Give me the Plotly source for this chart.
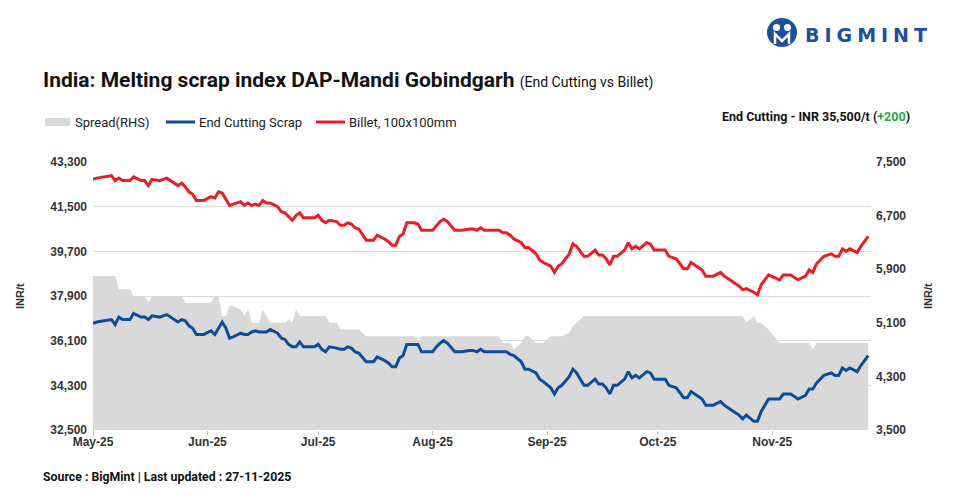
import plotly.graph_objects as go

# ---------------- data ----------------
dates = [
    "2025-05-01", "2025-05-02", "2025-05-04", "2025-05-06", "2025-05-07", "2025-05-08", "2025-05-09",
    "2025-05-11", "2025-05-12", "2025-05-14", "2025-05-15", "2025-05-16", "2025-05-17", "2025-05-19",
    "2025-05-21", "2025-05-22", "2025-05-24", "2025-05-25", "2025-05-26", "2025-05-27", "2025-05-28",
    "2025-05-29", "2025-05-31", "2025-06-02", "2025-06-03", "2025-06-04", "2025-06-05", "2025-06-06",
    "2025-06-07", "2025-06-08", "2025-06-10", "2025-06-11", "2025-06-12", "2025-06-13", "2025-06-14",
    "2025-06-15", "2025-06-16", "2025-06-17", "2025-06-18", "2025-06-20", "2025-06-21", "2025-06-22",
    "2025-06-23", "2025-06-24", "2025-06-25", "2025-06-26", "2025-06-27", "2025-06-30", "2025-07-01",
    "2025-07-02", "2025-07-03", "2025-07-04", "2025-07-06", "2025-07-07", "2025-07-08", "2025-07-09",
    "2025-07-10", "2025-07-11", "2025-07-12", "2025-07-14", "2025-07-16", "2025-07-17", "2025-07-19",
    "2025-07-20", "2025-07-21", "2025-07-22", "2025-07-23", "2025-07-24", "2025-07-25", "2025-07-27",
    "2025-07-28", "2025-07-29", "2025-08-01", "2025-08-02", "2025-08-03", "2025-08-04", "2025-08-05",
    "2025-08-07", "2025-08-09", "2025-08-11", "2025-08-12", "2025-08-13", "2025-08-14", "2025-08-15",
    "2025-08-19", "2025-08-20", "2025-08-21", "2025-08-22", "2025-08-23", "2025-08-25", "2025-08-26",
    "2025-08-27", "2025-08-29", "2025-08-30", "2025-08-31", "2025-09-02", "2025-09-03", "2025-09-04",
    "2025-09-05", "2025-09-07", "2025-09-08", "2025-09-09", "2025-09-11", "2025-09-12", "2025-09-14",
    "2025-09-15", "2025-09-16", "2025-09-17", "2025-09-18", "2025-09-19", "2025-09-20", "2025-09-22",
    "2025-09-23", "2025-09-24", "2025-09-25", "2025-09-26", "2025-09-28", "2025-09-29", "2025-09-30",
    "2025-10-03", "2025-10-04", "2025-10-06", "2025-10-08", "2025-10-09", "2025-10-10", "2025-10-12",
    "2025-10-13", "2025-10-14", "2025-10-16", "2025-10-18", "2025-10-19", "2025-10-21", "2025-10-23",
    "2025-10-24", "2025-10-25", "2025-10-27", "2025-10-28", "2025-10-29", "2025-10-31", "2025-11-03",
    "2025-11-04", "2025-11-06", "2025-11-08", "2025-11-10", "2025-11-11", "2025-11-12", "2025-11-13",
    "2025-11-15", "2025-11-17", "2025-11-18", "2025-11-19", "2025-11-20", "2025-11-21", "2025-11-22",
    "2025-11-24", "2025-11-25", "2025-11-26", "2025-11-27",
]

end_cutting_scrap = [
    36800, 36850, 36900, 36950, 36750, 37050, 36950,
    36950, 37200, 37050, 37050, 36950, 37100, 37050,
    37150, 37050, 36850, 36950, 36900, 36700, 36600,
    36350, 36350, 36500, 36350, 36600, 36850, 36600,
    36200, 36250, 36400, 36350, 36350, 36450, 36500,
    36450, 36450, 36450, 36550, 36400, 36200, 36150,
    35950, 35850, 35850, 36050, 35850, 35850, 35950,
    35750, 35650, 35850, 35800, 35750, 35750, 35850,
    35800, 35650, 35600, 35250, 35250, 35450, 35300,
    35200, 35050, 35050, 35400, 35500, 35950, 35950,
    35950, 35650, 35650, 35850, 36000, 36100, 36000,
    35650, 35650, 35700, 35700, 35650, 35750, 35650,
    35650, 35650, 35650, 35550, 35500, 35250, 34950,
    34950, 34800, 34550, 34450, 34200, 33950, 34200,
    34300, 34650, 34950, 34800, 34300, 34300, 34550,
    34350, 34350, 34200, 33950, 34300, 34300, 34550,
    34850, 34600, 34700, 34600, 34850, 34800, 34550,
    34550, 34300, 34200, 33800, 33800, 34050, 33850,
    33750, 33500, 33500, 33650, 33500, 33300, 33100,
    32950, 33100, 32850, 32850, 33250, 33750, 33750,
    33950, 33950, 33750, 33900, 34150, 34150, 34400,
    34700, 34800, 34700, 34700, 35000, 34900, 35000,
    34850, 35100, 35300, 35500,
]

billet_100x100 = [
    42600, 42650, 42700, 42750, 42550, 42650, 42550,
    42550, 42700, 42550, 42550, 42350, 42600, 42550,
    42650, 42550, 42350, 42450, 42300, 42100, 42000,
    41750, 41750, 41900, 41850, 42100, 42050, 41800,
    41550, 41600, 41700, 41550, 41650, 41550, 41600,
    41550, 41750, 41650, 41650, 41500, 41300, 41250,
    41100, 40950, 41150, 41250, 41050, 41050, 41150,
    40950, 40850, 40950, 40900, 40750, 40750, 40850,
    40800, 40650, 40600, 40150, 40150, 40350, 40200,
    40100, 39950, 39950, 40300, 40400, 40850, 40850,
    40800, 40550, 40550, 40750, 40900, 41000, 40900,
    40550, 40550, 40600, 40600, 40550, 40650, 40550,
    40550, 40450, 40450, 40350, 40200, 40050, 39850,
    39850, 39600, 39350, 39250, 39100, 38850, 39100,
    39200, 39600, 40000, 39900, 39500, 39500, 39750,
    39550, 39550, 39400, 39150, 39500, 39500, 39750,
    40050, 39800, 39900, 39800, 40050, 40000, 39750,
    39750, 39500, 39400, 39000, 39000, 39250, 39050,
    38950, 38700, 38700, 38850, 38700, 38500, 38300,
    38150, 38200, 38050, 37950, 38350, 38750, 38550,
    38750, 38750, 38550, 38700, 38950, 38850, 39200,
    39500, 39600, 39500, 39500, 39800, 39700, 39800,
    39650, 39900, 40100, 40300,
]

spread_rhs = [
    5800, 5800, 5800, 5800, 5800, 5600, 5600,
    5600, 5500, 5500, 5500, 5400, 5500, 5500,
    5500, 5500, 5500, 5500, 5400, 5400, 5400,
    5400, 5400, 5400, 5500, 5500, 5200, 5200,
    5350, 5350, 5300, 5200, 5300, 5100, 5100,
    5100, 5300, 5200, 5100, 5100, 5100, 5100,
    5150, 5100, 5300, 5200, 5200, 5200, 5200,
    5200, 5200, 5100, 5100, 5000, 5000, 5000,
    5000, 5000, 5000, 4900, 4900, 4900, 4900,
    4900, 4900, 4900, 4900, 4900, 4900, 4900,
    4850, 4900, 4900, 4900, 4900, 4900, 4900,
    4900, 4900, 4900, 4900, 4900, 4900, 4900,
    4900, 4800, 4800, 4800, 4700, 4800, 4900,
    4900, 4800, 4800, 4800, 4900, 4900, 4900,
    4900, 4950, 5050, 5100, 5200, 5200, 5200,
    5200, 5200, 5200, 5200, 5200, 5200, 5200,
    5200, 5200, 5200, 5200, 5200, 5200, 5200,
    5200, 5200, 5200, 5200, 5200, 5200, 5200,
    5200, 5200, 5200, 5200, 5200, 5200, 5200,
    5200, 5100, 5200, 5100, 5100, 5000, 4800,
    4800, 4800, 4800, 4800, 4800, 4700, 4800,
    4800, 4800, 4800, 4800, 4800, 4800, 4800,
    4800, 4800, 4800, 4800,
]

left_ticks = [32500, 34300, 36100, 37900, 39700, 41500, 43300]
right_ticks = [3500, 4300, 5100, 5900, 6700, 7500]
month_ticks = ["2025-05-01", "2025-06-01", "2025-07-01", "2025-08-01",
               "2025-09-01", "2025-10-01", "2025-11-01"]
month_labels = ["May-25", "Jun-25", "Jul-25", "Aug-25", "Sep-25", "Oct-25", "Nov-25"]

series_names = ["Spread(RHS)", "End Cutting Scrap", "Billet, 100x100mm"]
title_text = "India: Melting scrap index DAP-Mandi Gobindgarh"
subtitle_text = "(End Cutting vs Billet)"
latest_text = "End Cutting - INR 35,500/t ("
latest_change = "+200"
source_text = "Source : BigMint | Last updated : 27-11-2025"

# ---------------- styling ----------------
W, H = 953, 496
L, R, T, B = 93, 871, 162, 430
GRAY, BLUE, RED = "#d9d9d9", "#0d4c9b", "#ec1c24"
TICKFONT = dict(family="Liberation Sans, Arial", size=12, color="#333333")
TXT = "Roboto, Liberation Sans, Arial"


def px(x):
    return (x - L) / (R - L)


def py(y):
    return (B - y) / (B - T)


fig = go.Figure()

fig.add_trace(go.Scatter(
    x=dates, y=spread_rhs, name=series_names[0], yaxis="y",
    mode="lines", line=dict(width=0, color=GRAY), fill="tozeroy",
    fillcolor=GRAY, showlegend=False, hoverinfo="skip"))
fig.add_trace(go.Scatter(
    x=dates, y=end_cutting_scrap, name=series_names[1], yaxis="y2",
    mode="lines", line=dict(width=3, color=BLUE), showlegend=False))
fig.add_trace(go.Scatter(
    x=dates, y=billet_100x100, name=series_names[2], yaxis="y2",
    mode="lines", line=dict(width=3, color=RED), showlegend=False))

fig.update_layout(
    width=W, height=H,
    margin=dict(l=L, r=W - R, t=T, b=H - B, pad=0),
    paper_bgcolor="white", plot_bgcolor="white",
    font=dict(family=TXT, color="#222222"),
    xaxis=dict(
        type="date", range=["2025-05-01", "2025-11-27 18:00"],
        tickvals=month_ticks, ticktext=["<b>%s</b>" % t for t in month_labels],
        ticks="outside", ticklen=4, tickcolor="#bfbfbf", tickfont=TICKFONT,
        ticklabelstandoff=-3,
        showgrid=False, showline=False, zeroline=False,
    ),
    yaxis=dict(
        side="right", range=[3500, 7500],
        tickvals=right_ticks, ticktext=["<b>{:,}</b>".format(v) for v in right_ticks],
        showgrid=False, zeroline=False, showline=False, tickfont=TICKFONT,
        ticks="", ticklabelstandoff=4,
    ),
    yaxis2=dict(
        overlaying="y", side="left", range=[32500, 43300],
        tickvals=left_ticks, ticktext=["<b>{:,}</b>".format(v) for v in left_ticks],
        showgrid=True, gridcolor="#d9d9d9", gridwidth=1.2,
        zeroline=False, showline=False, tickfont=TICKFONT, ticks="",
        ticklabelstandoff=5,
    ),
)

ann = []
# title
ann.append(dict(
    x=px(41), y=py(80), xref="paper", yref="paper", xanchor="left", yanchor="middle",
    text="<b>%s</b> <span style='font-size:14px'>%s</span>" % (title_text, subtitle_text),
    showarrow=False, font=dict(family=TXT, size=21, color="#111111")))
# latest value
ann.append(dict(
    x=px(912), y=py(116), xref="paper", yref="paper", xanchor="right", yanchor="middle",
    text="<b>%s<span style='color:#1fa845'>%s</span>)</b>" % (latest_text, latest_change),
    showarrow=False, font=dict(family=TXT, size=12.5, color="#111111")))
# source
ann.append(dict(
    x=px(41), y=py(477), xref="paper", yref="paper", xanchor="left", yanchor="middle",
    text="<b>%s</b>" % source_text, showarrow=False,
    font=dict(family=TXT, size=12.3, color="#111111")))
# axis titles
for xx in (20, 928):
    ann.append(dict(
        x=px(xx), y=py(296), xref="paper", yref="paper", xanchor="center", yanchor="middle",
        text="<b>INR/t</b>", textangle=-90, showarrow=False,
        font=dict(family="Liberation Sans, Arial", size=11, color="#333333")))

# manual legend
shapes = []
leg_y = 122
shapes.append(dict(type="rect", xref="paper", yref="paper",
                   x0=px(45), x1=px(70), y0=py(leg_y + 4), y1=py(leg_y - 4),
                   fillcolor=GRAY, line=dict(width=0)))
shapes.append(dict(type="line", xref="paper", yref="paper",
                   x0=px(166), x1=px(195), y0=py(leg_y), y1=py(leg_y),
                   line=dict(color=BLUE, width=3)))
shapes.append(dict(type="line", xref="paper", yref="paper",
                   x0=px(316), x1=px(345), y0=py(leg_y), y1=py(leg_y),
                   line=dict(color=RED, width=3)))
for xx, name in zip((73, 197, 347), series_names):
    ann.append(dict(
        x=px(xx), y=py(leg_y), xref="paper", yref="paper", xanchor="left", yanchor="middle",
        text=name, showarrow=False, font=dict(family=TXT, size=13, color="#222222")))

# logo
shapes.append(dict(type="circle", xref="paper", yref="paper",
                   x0=px(767), x1=px(797), y0=py(47), y1=py(18),
                   fillcolor="#1d4fa0", line=dict(width=0)))
shapes.append(dict(type="circle", xref="paper", yref="paper",
                   x0=px(773), x1=px(780), y0=py(31), y1=py(24),
                   fillcolor="white", line=dict(width=0)))
shapes.append(dict(type="circle", xref="paper", yref="paper",
                   x0=px(784), x1=px(791), y0=py(31), y1=py(24),
                   fillcolor="white", line=dict(width=0)))
shapes.append(dict(type="path", xref="paper", yref="paper",
                   path="M %f,%f L %f,%f L %f,%f L %f,%f L %f,%f" % (
                       px(775), py(44), px(775), py(34), px(782), py(41),
                       px(789), py(34), px(789), py(44)),
                   line=dict(color="white", width=2.5)))
ann.append(dict(
    x=px(803), y=py(35), xref="paper", yref="paper", xanchor="left", yanchor="middle",
    text="<b><span style='letter-spacing:5px'>BIGMINT</span></b>", showarrow=False,
    font=dict(family="DejaVu Sans, Verdana", size=19, color="#1d4fa0")))

fig.update_layout(annotations=ann, shapes=shapes)

fig.write_html(
    "out.html",
    config={"displayModeBar": False},
    post_script="document.body.style.margin='0';document.body.style.overflow='hidden';",
)
